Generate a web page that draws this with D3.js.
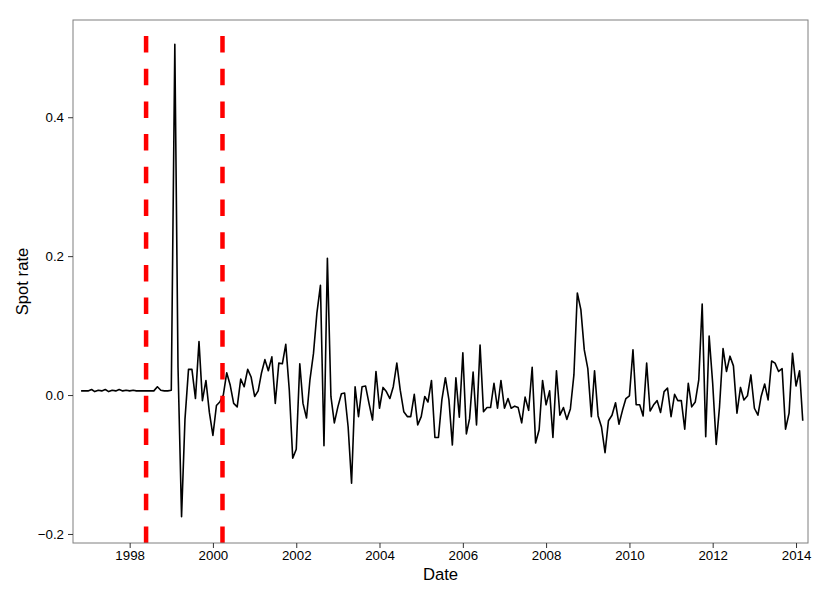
<!DOCTYPE html>
<html><head><meta charset="utf-8">
<script src="https://cdn.jsdelivr.net/npm/d3@7"></script>
<style>
body{margin:0;background:#fff}
svg text{font-family:"Liberation Sans",Arial,Helvetica,sans-serif}
</style>
</head><body>
<svg id="chart" width="830" height="595"></svg>
<script>
// ---- data (monthly, first-of-month dates) ----
const firstMonth = "1996-11-01";
const lastMonth = "2014-03-01";
const spotRate = [
  0.006, 0.006,
  0.006, 0.008, 0.005, 0.007, 0.006, 0.008, 0.005, 0.007, 0.006, 0.008, 0.006, 0.007,
  0.006, 0.007, 0.006, 0.006, 0.006, 0.006, 0.006, 0.006, 0.012, 0.007, 0.006, 0.006,
  0.007, 0.505, 0.040, -0.175, -0.035, 0.037, 0.037, -0.005, 0.077, -0.008, 0.021, -0.025,
  -0.058, -0.015, -0.010, 0.000, 0.032, 0.014, -0.012, -0.017, 0.023, 0.012, 0.037, 0.026,
  -0.002, 0.006, 0.031, 0.051, 0.035, 0.055, -0.012, 0.046, 0.045, 0.073, 0.007, -0.091,
  -0.078, 0.045, -0.012, -0.033, 0.022, 0.060, 0.118, 0.158, -0.073, 0.197, -0.002, -0.040,
  -0.017, 0.002, 0.003, -0.046, -0.127, 0.012, -0.031, 0.012, 0.013, -0.012, -0.036, 0.034,
  -0.019, 0.011, 0.005, -0.005, 0.012, 0.046, 0.007, -0.024, -0.031, -0.031, 0.001, -0.043,
  -0.031, -0.002, -0.010, 0.021, -0.061, -0.061, -0.007, 0.025, -0.007, -0.072, 0.025, -0.032,
  0.061, -0.056, -0.034, 0.033, -0.043, 0.072, -0.024, -0.018, -0.018, 0.017, -0.019, 0.021,
  -0.019, -0.005, -0.019, -0.016, -0.018, -0.040, -0.003, -0.022, 0.040, -0.069, -0.050, 0.021,
  -0.014, 0.006, -0.061, 0.035, -0.029, -0.018, -0.035, -0.020, 0.029, 0.147, 0.123, 0.065,
  0.038, -0.031, 0.035, -0.030, -0.046, -0.083, -0.037, -0.029, -0.011, -0.042, -0.022, -0.005,
  -0.001, 0.065, -0.014, -0.014, -0.030, 0.046, -0.023, -0.014, -0.008, -0.025, 0.005, 0.010,
  -0.031, 0.001, -0.008, -0.008, -0.049, 0.017, -0.017, -0.010, 0.022, 0.131, -0.060, 0.085,
  0.017, -0.071, -0.017, 0.067, 0.034, 0.056, 0.042, -0.026, 0.011, -0.007, -0.001, 0.029,
  -0.019, -0.029, -0.002, 0.016, -0.007, 0.049, 0.046, 0.034, 0.038, -0.049, -0.026, 0.060,
  0.013, 0.035, -0.037
];
const breakDates = ["1998-05-25", "2000-03-25"];
const yTicks = [-0.2, 0.0, 0.2, 0.4];
const xTickYears = [1998, 2000, 2002, 2004, 2006, 2008, 2010, 2012, 2014];
const xLabel = "Date";
const yLabel = "Spot rate";

// ---- layout ----
const W = 830, H = 595;
const panel = {left: 73, right: 808, top: 20, bottom: 543};
const parse = d3.utcParse("%Y-%m-%d");

const months = d3.utcMonth.range(parse(firstMonth), d3.utcMonth.offset(parse(lastMonth), 1));
const data = months.map((d, i) => ({date: d, value: spotRate[i]}));

const x = d3.scaleUtc()
  .domain([parse("1996-08-22"), parse("2014-04-16")])
  .range([panel.left, panel.right]);
const y = d3.scaleLinear()
  .domain([-0.213, 0.54])
  .range([panel.bottom, panel.top]);

const svg = d3.select("#chart");
svg.append("rect").attr("width", W).attr("height", H).attr("fill", "#fff");

const clip = svg.append("clipPath").attr("id", "pclip")
  .append("rect")
  .attr("x", panel.left).attr("y", panel.top)
  .attr("width", panel.right - panel.left).attr("height", panel.bottom - panel.top);

// line
const line = d3.line().x(d => x(d.date)).y(d => y(d.value));
svg.append("path")
  .datum(data)
  .attr("clip-path", "url(#pclip)")
  .attr("fill", "none")
  .attr("stroke", "#000")
  .attr("stroke-width", 1.6)
  .attr("stroke-linejoin", "round")
  .attr("d", line);

// red dashed vertical lines (drawn bottom->top)
svg.append("g").attr("clip-path", "url(#pclip)")
  .selectAll("line").data(breakDates).join("line")
  .attr("x1", d => x(parse(d))).attr("x2", d => x(parse(d)))
  .attr("y1", panel.bottom).attr("y2", panel.top)
  .attr("stroke", "#ff0000")
  .attr("stroke-width", 4.5)
  .attr("stroke-dasharray", "16.5,16.2");

// panel border
svg.append("rect")
  .attr("x", panel.left).attr("y", panel.top)
  .attr("width", panel.right - panel.left).attr("height", panel.bottom - panel.top)
  .attr("fill", "none").attr("stroke", "#7f7f7f").attr("stroke-width", 1);

// axes
const yAxis = svg.append("g")
  .attr("transform", `translate(${panel.left},0)`)
  .call(d3.axisLeft(y).tickValues(yTicks).tickFormat(d3.format(".1f")).tickSize(5).tickPadding(4));
const xAxis = svg.append("g")
  .attr("transform", `translate(0,${panel.bottom})`)
  .call(d3.axisBottom(x)
    .tickValues(xTickYears.map(yr => new Date(Date.UTC(yr, 0, 1))))
    .tickFormat(d3.utcFormat("%Y")).tickSize(5).tickPadding(3));

[yAxis, xAxis].forEach(g => {
  g.select(".domain").remove();
  g.selectAll(".tick line").attr("stroke", "#333").attr("stroke-width", 1);
  g.selectAll(".tick text").attr("fill", "#000").style("font-size", "13.3px")
    .style("font-family", '"Liberation Sans",Arial,sans-serif');
});

// axis titles
svg.append("text")
  .attr("x", (panel.left + panel.right) / 2).attr("y", 580)
  .attr("text-anchor", "middle").style("font-size", "16.7px").attr("fill", "#000")
  .text(xLabel);
svg.append("text")
  .attr("transform", `translate(28,${(panel.top + panel.bottom) / 2}) rotate(-90)`)
  .attr("text-anchor", "middle").style("font-size", "16.7px").attr("fill", "#000")
  .text(yLabel);
</script>
</body></html>
